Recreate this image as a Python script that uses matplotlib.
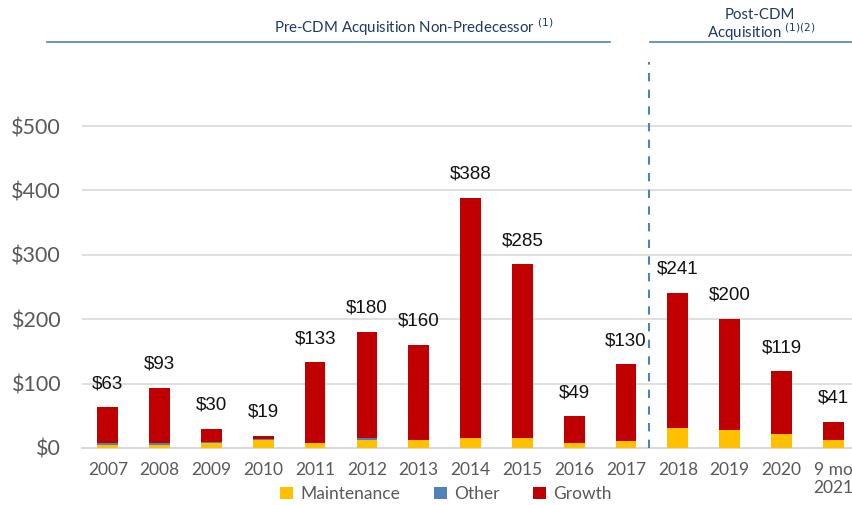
import matplotlib
matplotlib.use("Agg")
import matplotlib.pyplot as plt
from matplotlib.lines import Line2D

years = ["2007", "2008", "2009", "2010", "2011", "2012", "2013", "2014", "2015",
         "2016", "2017", "2018", "2019", "2020", "9 mo\n2021"]
totals = [63, 93, 30, 19, 133, 180, 160, 388, 285, 49, 130, 241, 200, 119, 41]
maintenance = [5, 4, 7, 12, 8, 12, 13, 15, 15, 7, 11, 31, 28, 22, 13]
other = [2, 4, 2, 2, 0, 4, 0, 0, 0, 0, 0, 0, 0, 0, 0]
growth = [t - m - o for t, m, o in zip(totals, maintenance, other)]

c_maint = "#FFC000"
c_other = "#4F81BD"
c_growth = "#C00000"

fig = plt.figure(figsize=(8.53, 5.05), dpi=100)
ax = fig.add_axes([0.096, 0.1129, 0.904, 0.765])

x = list(range(len(years)))
w = 0.4
ax.bar(x, maintenance, w, color=c_maint, label="Maintenance", zorder=3)
bot2 = maintenance
ax.bar(x, other, w, bottom=bot2, color=c_other, label="Other", zorder=3)
bot3 = [m + o for m, o in zip(maintenance, other)]
ax.bar(x, growth, w, bottom=bot3, color=c_growth, label="Growth", zorder=3)

for xi, t in zip(x, totals):
    ax.annotate(f"${t}", (xi, t), xytext=(0, 11), textcoords="offset points",
                ha="center", va="bottom", fontsize=13.5, family="Liberation Sans",
                color="#111111")

ax.set_xlim(-0.5, 14.38)
ax.set_ylim(0, 600)
ax.set_yticks([0, 100, 200, 300, 400, 500])
ax.set_yticklabels(["$0", "$100", "$200", "$300", "$400", "$500"],
                   fontsize=15.5, family="Lato", color="#595959")
ax.set_xticks(x)
ax.set_xticklabels(years, fontsize=12.5, family="Lato", color="#595959")
ax.tick_params(axis="x", length=0, pad=10)
ax.tick_params(axis="y", length=0, pad=15)
ax.yaxis.grid(True, color="#D9D9D9", linewidth=1.2, zorder=0)
for s in ["top", "right", "left"]:
    ax.spines[s].set_visible(False)
ax.spines["bottom"].set_color("#D9D9D9")
ax.spines["bottom"].set_linewidth(1.5)

ax.axvline(10.45, ymin=0, ymax=1, color="#4F81BD", linestyle=(0, (4, 4)),
           linewidth=1.5, zorder=4)

# header lines and texts
fig.add_artist(Line2D([47 / 853, 610 / 853], [1 - 42 / 505, 1 - 42 / 505],
                      color="#4F81BD", linewidth=1.2))
fig.add_artist(Line2D([650 / 853, 852 / 853], [1 - 42 / 505, 1 - 42 / 505],
                      color="#4F81BD", linewidth=1.2))
fig.text(414 / 853, 1 - 27 / 505, r"Pre-CDM Acquisition Non-Predecessor $^{(1)}$",
         ha="center", va="center", fontsize=10.8, family="Lato", color="#1F3864")
fig.text(760 / 853, 1 - 15 / 505, "Post-CDM", ha="center", va="center",
         fontsize=10.8, family="Lato", color="#1F3864")
fig.text(761 / 853, 1 - 32 / 505, r"Acquisition $^{(1)(2)}$", ha="center", va="center",
         fontsize=10.8, family="Lato", color="#1F3864")

leg = fig.legend(loc="center", bbox_to_anchor=(446 / 853, 1 - 494 / 505), ncol=3,
                 frameon=False, prop={"family": "Lato", "size": 12.5},
                 handlelength=0.75, handleheight=0.75, columnspacing=1.95,
                 handletextpad=0.4, borderpad=0)
for t in leg.get_texts():
    t.set_color("#595959")

fig.savefig("out.png", dpi=100)
